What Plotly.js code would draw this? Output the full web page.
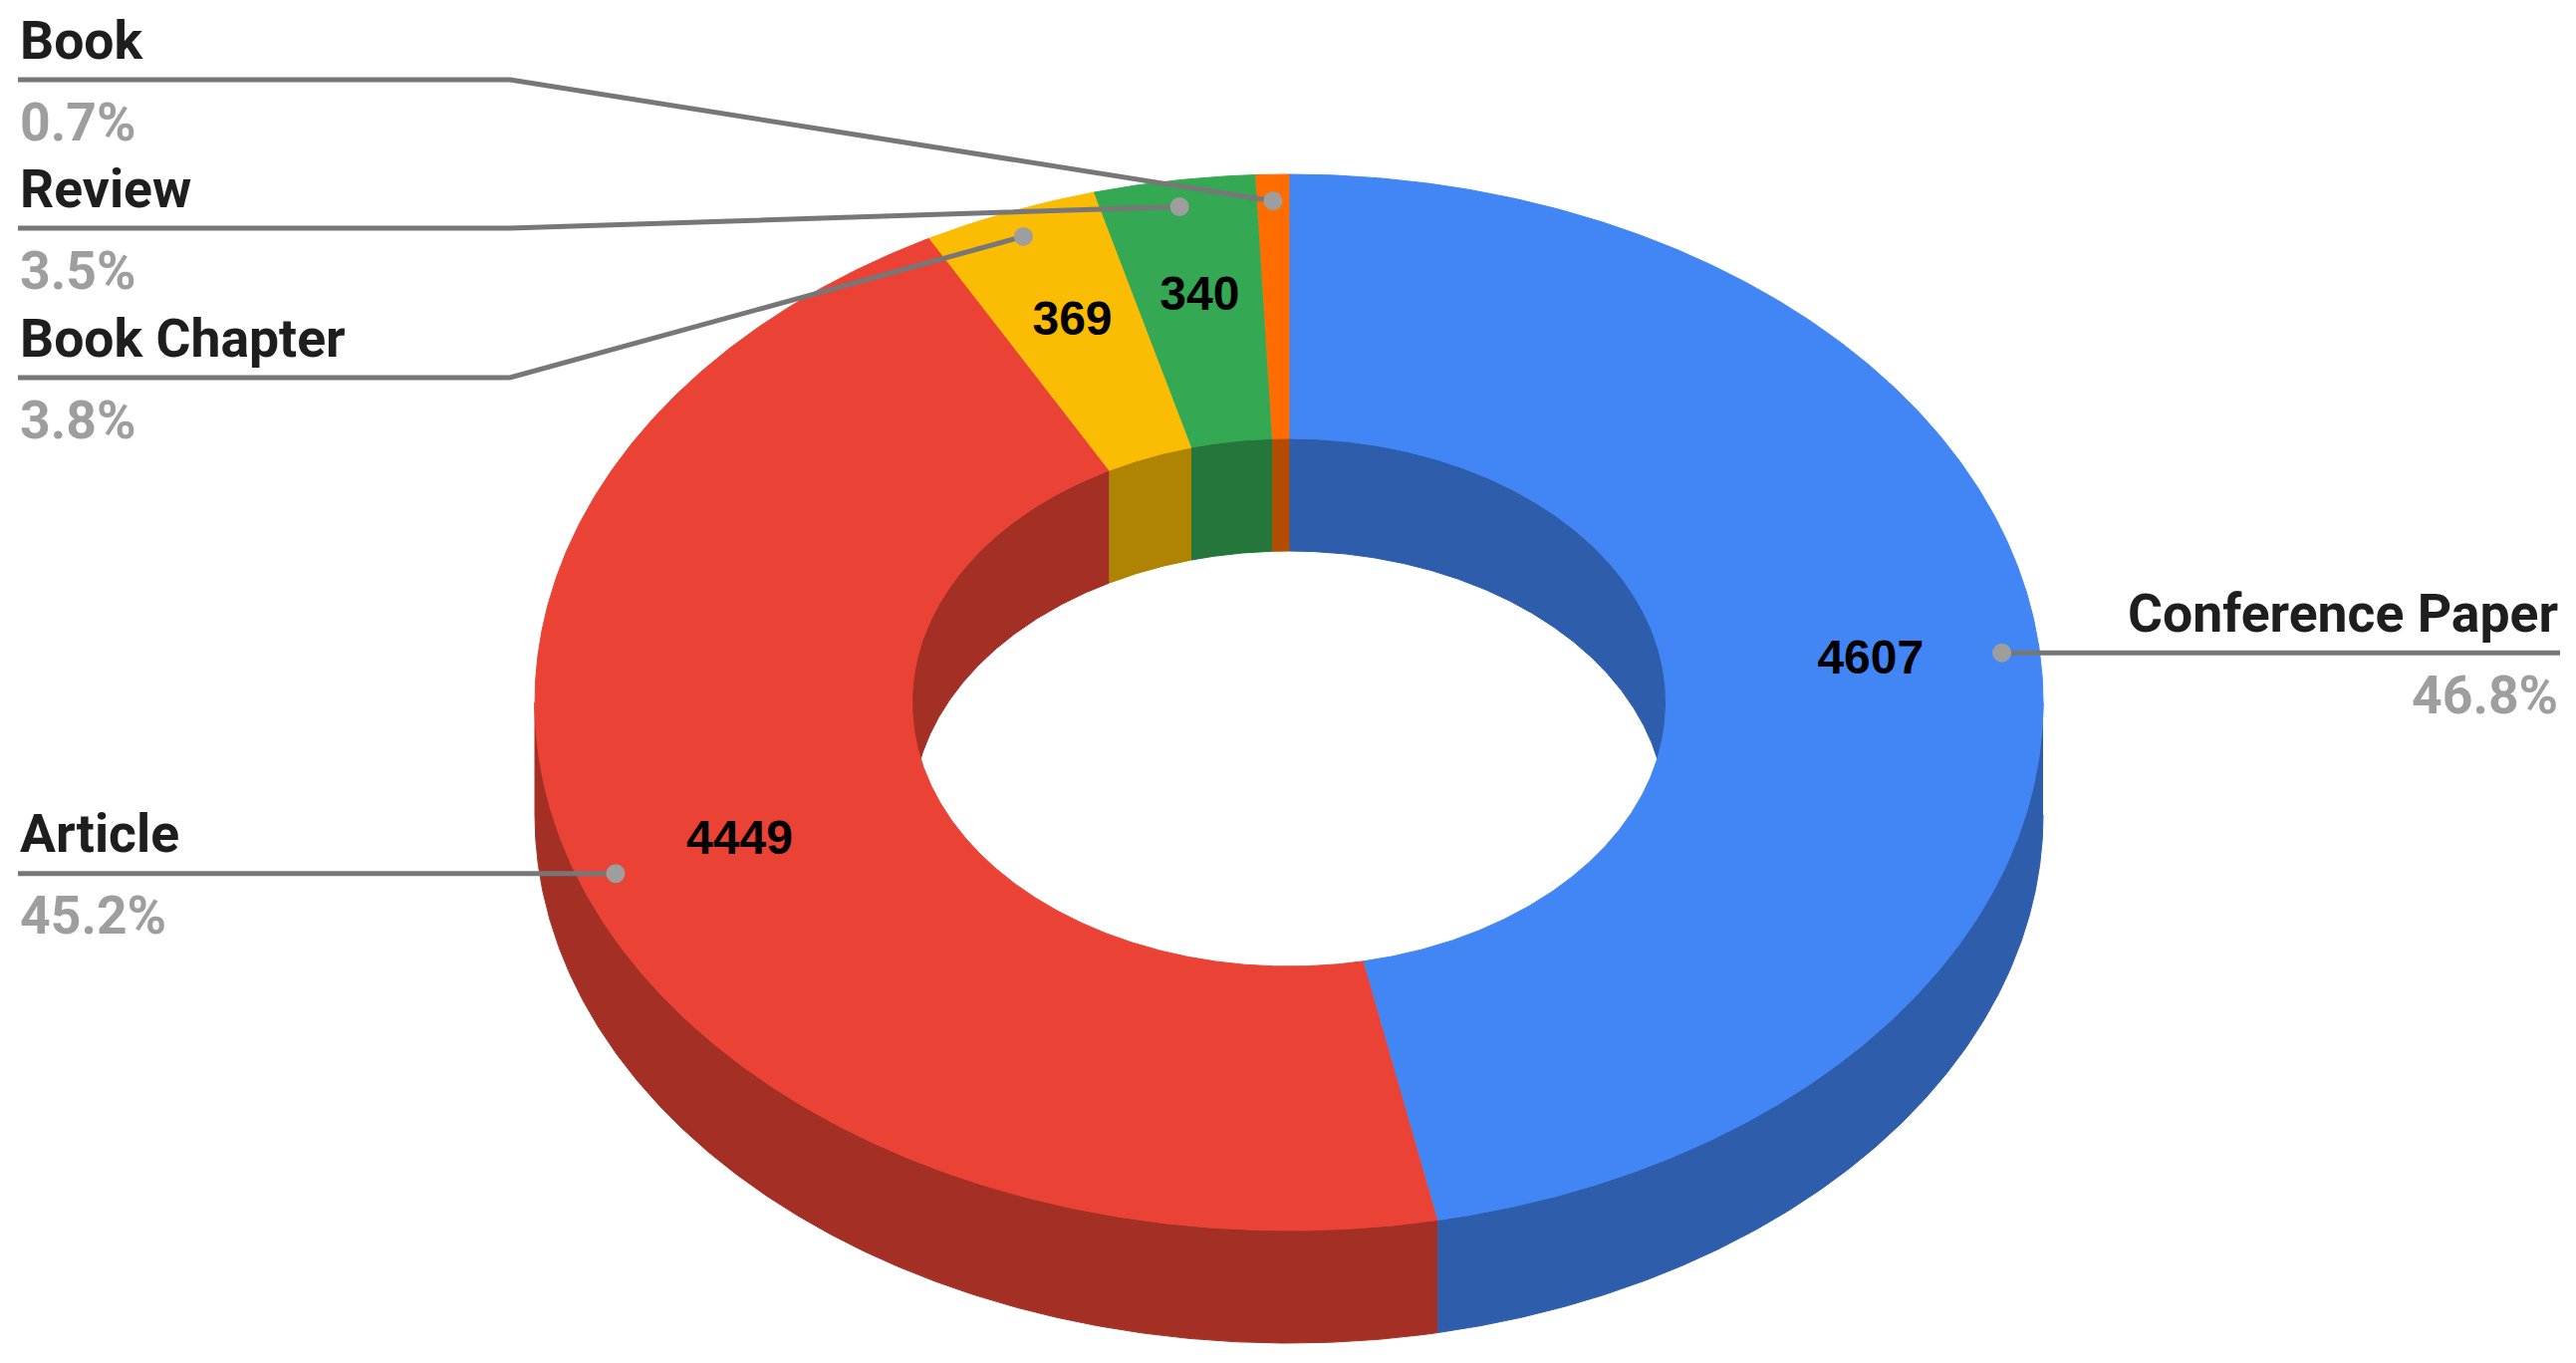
<!DOCTYPE html>
<html><head><meta charset="utf-8">
<script src="https://cdn.plot.ly/plotly-3.0.1.min.js"></script>
<style>html,body{margin:0;padding:0;background:#fff;overflow:hidden}</style>
</head><body><div id="chart" style="width:2586px;height:1368px"></div>
<script>
// ---------- data ----------
const categories = ['Conference Paper', 'Article', 'Book Chapter', 'Review', 'Book'];
const counts = [4607, 4449, 369, 340, 70];
const colors = ['#4285F4', '#EA4335', '#FBBC04', '#34A853', '#FF6D01'];

// ---------- layout / geometry (not data) ----------
const W = 2586, H = 1368;
const geo = {cx: 1294, cy: 705, rx: 757, ry: 530, hole: 0.5, depth: 113, dotR: 0.95, valR: 0.775};
const labelLayout = {
  'Conference Paper': {side: 'right', lineY: null},
  'Article': {side: 'left', lineY: null},
  'Book Chapter': {side: 'left', lineY: 379, elbowX: 512},
  'Review': {side: 'left', lineY: 229, elbowX: 512},
  'Book': {side: 'left', lineY: 80, elbowX: 512}
};
const edgeLeft = 18, edgeRight = 2570;
const nameOffset = -40, pctOffset = 42;
const labelFont = 'Roboto, "Open Sans", sans-serif';
const labelSize = 53.5;
const lineColor = '#777777', dotColor = '#9E9E9E';

function darken(hex, f) {
  const n = parseInt(hex.slice(1), 16);
  const r = Math.round(((n >> 16) & 255) * f), g = Math.round(((n >> 8) & 255) * f), b = Math.round((n & 255) * f);
  return 'rgb(' + r + ',' + g + ',' + b + ')';
}
function pt(theta, r, dy) {
  const t = theta * Math.PI / 180;
  return [geo.cx + geo.rx * r * Math.sin(t), geo.cy - geo.ry * r * Math.cos(t) + (dy || 0)];
}
function arc(a, b, r, dy) {
  const n = Math.max(2, Math.ceil(Math.abs(b - a) / 0.4));
  const out = [];
  for (let i = 0; i <= n; i++) out.push(pt(a + (b - a) * i / n, r, dy));
  return out;
}
function poly(points, color) {
  return {
    type: 'scatter', mode: 'lines', x: points.map(p => p[0]), y: points.map(p => p[1]),
    fill: 'toself', fillcolor: color, line: {color: color, width: 1},
    hoverinfo: 'skip', showlegend: false
  };
}

const total = counts.reduce((s, v) => s + v, 0);
const fracs = counts.map(v => v / total);
const starts = [], ends = [];
let acc = 0;
fracs.forEach(f => { starts.push(acc * 360); acc += f; ends.push(acc * 360); });
const mids = starts.map((s, i) => (s + ends[i]) / 2);

const traces = [];
// outer walls (front half: 90..270)
categories.forEach((c, i) => {
  const lo = Math.max(starts[i], 90), hi = Math.min(ends[i], 270);
  if (hi > lo) traces.push(poly(arc(lo, hi, 1, 0).concat(arc(hi, lo, 1, geo.depth)), darken(colors[i], 0.7)));
});
// inner walls (back half: 270..360 and 0..90)
categories.forEach((c, i) => {
  [[0, 90], [270, 360]].forEach(rg => {
    const lo = Math.max(starts[i], rg[0]), hi = Math.min(ends[i], rg[1]);
    if (hi > lo) traces.push(poly(arc(lo, hi, geo.hole, 0).concat(arc(hi, lo, geo.hole, geo.depth)), darken(colors[i], 0.7)));
  });
});
// top faces
categories.forEach((c, i) => {
  traces.push(poly(arc(starts[i], ends[i], 1, 0).concat(arc(ends[i], starts[i], geo.hole, 0)), colors[i]));
});
// value labels
const vx = [], vy = [], vt = [];
categories.forEach((c, i) => {
  if (fracs[i] >= 0.02) { const p = pt(mids[i], geo.valR, 0); vx.push(p[0]); vy.push(p[1]); vt.push(String(counts[i])); }
});
traces.push({type: 'scatter', mode: 'text', x: vx, y: vy, text: vt, textposition: 'middle center',
  textfont: {family: '"Liberation Sans", Arial, sans-serif', size: 48, color: '#000000', weight: 700},
  hoverinfo: 'skip', showlegend: false});

// leader lines, dots, labels
const annotations = [];
const dx = [], dy = [];
categories.forEach((c, i) => {
  const L = labelLayout[c];
  const d = pt(mids[i], geo.dotR, 0);
  dx.push(d[0]); dy.push(d[1]);
  const ly = L.lineY == null ? d[1] : L.lineY;
  const edge = L.side === 'left' ? edgeLeft : edgeRight;
  let xs, ys;
  if (L.lineY == null) { xs = [d[0], edge]; ys = [d[1], d[1]]; }
  else { xs = [d[0], L.elbowX, edge]; ys = [d[1], ly, ly]; }
  traces.push({type: 'scatter', mode: 'lines', x: xs, y: ys, line: {color: lineColor, width: 5},
    hoverinfo: 'skip', showlegend: false});
  const anchor = L.side === 'left' ? 'left' : 'right';
  annotations.push({x: edge, y: ly + nameOffset, xref: 'x', yref: 'y', text: '<b>' + c + '</b>', showarrow: false,
    xanchor: anchor, yanchor: 'middle', font: {family: labelFont, size: labelSize, color: '#1E1E1E'}});
  annotations.push({x: edge, y: ly + pctOffset, xref: 'x', yref: 'y', text: '<b>' + (fracs[i] * 100).toFixed(1) + '%</b>', showarrow: false,
    xanchor: anchor, yanchor: 'middle', font: {family: labelFont, size: labelSize, color: '#9E9E9E'}});
});
traces.push({type: 'scatter', mode: 'markers', x: dx, y: dy, marker: {size: 19, color: dotColor},
  hoverinfo: 'skip', showlegend: false});

const layout = {
  width: W, height: H, margin: {l: 0, r: 0, t: 0, b: 0},
  paper_bgcolor: '#ffffff', plot_bgcolor: '#ffffff', showlegend: false,
  xaxis: {range: [0, W], visible: false, fixedrange: true},
  yaxis: {range: [H, 0], visible: false, fixedrange: true},
  annotations: annotations
};
Plotly.newPlot('chart', traces, layout, {displayModeBar: false, staticPlot: true});
</script></body></html>
